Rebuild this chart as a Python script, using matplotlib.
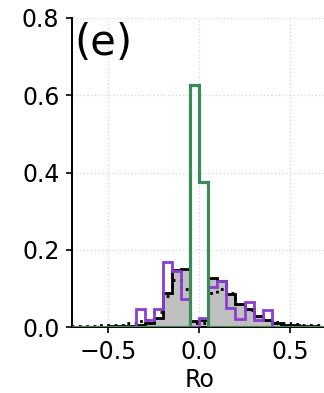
import numpy as np
import matplotlib
matplotlib.use("Agg")
import matplotlib.pyplot as plt

# bin edges (Ro)
edges = np.round(np.arange(-0.7, 0.7001, 0.05), 3)

# black solid (filled grey) histogram
black_vals = [0.001, 0.001, 0.002, 0.002, 0.003, 0.003, 0.004,
              0.006, 0.010, 0.025, 0.089, 0.148, 0.150, 0.016,
              0.020, 0.128, 0.120, 0.087, 0.060, 0.048, 0.030,
              0.018, 0.010, 0.006, 0.005, 0.004, 0.003, 0.002]

# black dotted histogram
dotted_vals = [0.003, 0.004, 0.004, 0.005, 0.006, 0.007, 0.010,
               0.017, 0.020, 0.040, 0.080, 0.122, 0.100, 0.010,
               0.012, 0.090, 0.100, 0.090, 0.060, 0.045, 0.030,
               0.020, 0.014, 0.010, 0.008, 0.007, 0.006, 0.005]

# purple histogram
purple_vals = [0, 0, 0, 0, 0, 0, 0,
               0.047, 0.020, 0.047, 0.168, 0.145, 0.072, 0.0,
               0.024, 0.105, 0.120, 0.050, 0.022, 0.066, 0.020,
               0.045, 0, 0, 0, 0, 0, 0]

# green histogram
green_vals = [0, 0, 0, 0, 0, 0, 0,
              0, 0, 0, 0, 0, 0, 0.625,
              0.375, 0, 0, 0, 0, 0, 0,
              0, 0, 0, 0, 0, 0, 0]

xticks = [-0.5, 0.0, 0.5]
yticks = [0.0, 0.2, 0.4, 0.6, 0.8]

fig = plt.figure(figsize=(3.24, 3.93), dpi=100)
ax = fig.add_axes([0.222, 0.167, 0.785, 0.788])

ax.grid(True, color="#d9d9d9", linestyle=":", linewidth=1.0, zorder=0)
ax.set_axisbelow(True)

ax.stairs(black_vals, edges, fill=True, color="#c0c0c0", zorder=2)
ax.stairs(black_vals, edges, color="black", linewidth=2.0, zorder=3)
ax.stairs(dotted_vals, edges, color="black", linewidth=2.0, linestyle=":", zorder=4)
ax.stairs(purple_vals, edges, color="#8a3fcf", linewidth=2.0, zorder=5)
ax.stairs(green_vals, edges, color="#3c8a5a", linewidth=2.3, zorder=6)

ax.set_xlim(-0.7, 0.7)
ax.set_ylim(0, 0.8)
ax.set_xticks(xticks)
ax.set_yticks(yticks)
ax.set_xticklabels(["\u22120.5", "0.0", "0.5"])
ax.set_yticklabels(["0.0", "0.2", "0.4", "0.6", "0.8"])
ax.tick_params(labelsize=17, width=1.2, length=4, pad=5)
ax.set_xlabel("Ro", fontsize=17, labelpad=3)

for s in ["top", "right"]:
    ax.spines[s].set_visible(False)
for s in ["left", "bottom"]:
    ax.spines[s].set_linewidth(1.4)

ax.text(0.01, 0.985, "(e)", transform=ax.transAxes, fontsize=30,
        ha="left", va="top")

fig.savefig("out.png", dpi=100)
